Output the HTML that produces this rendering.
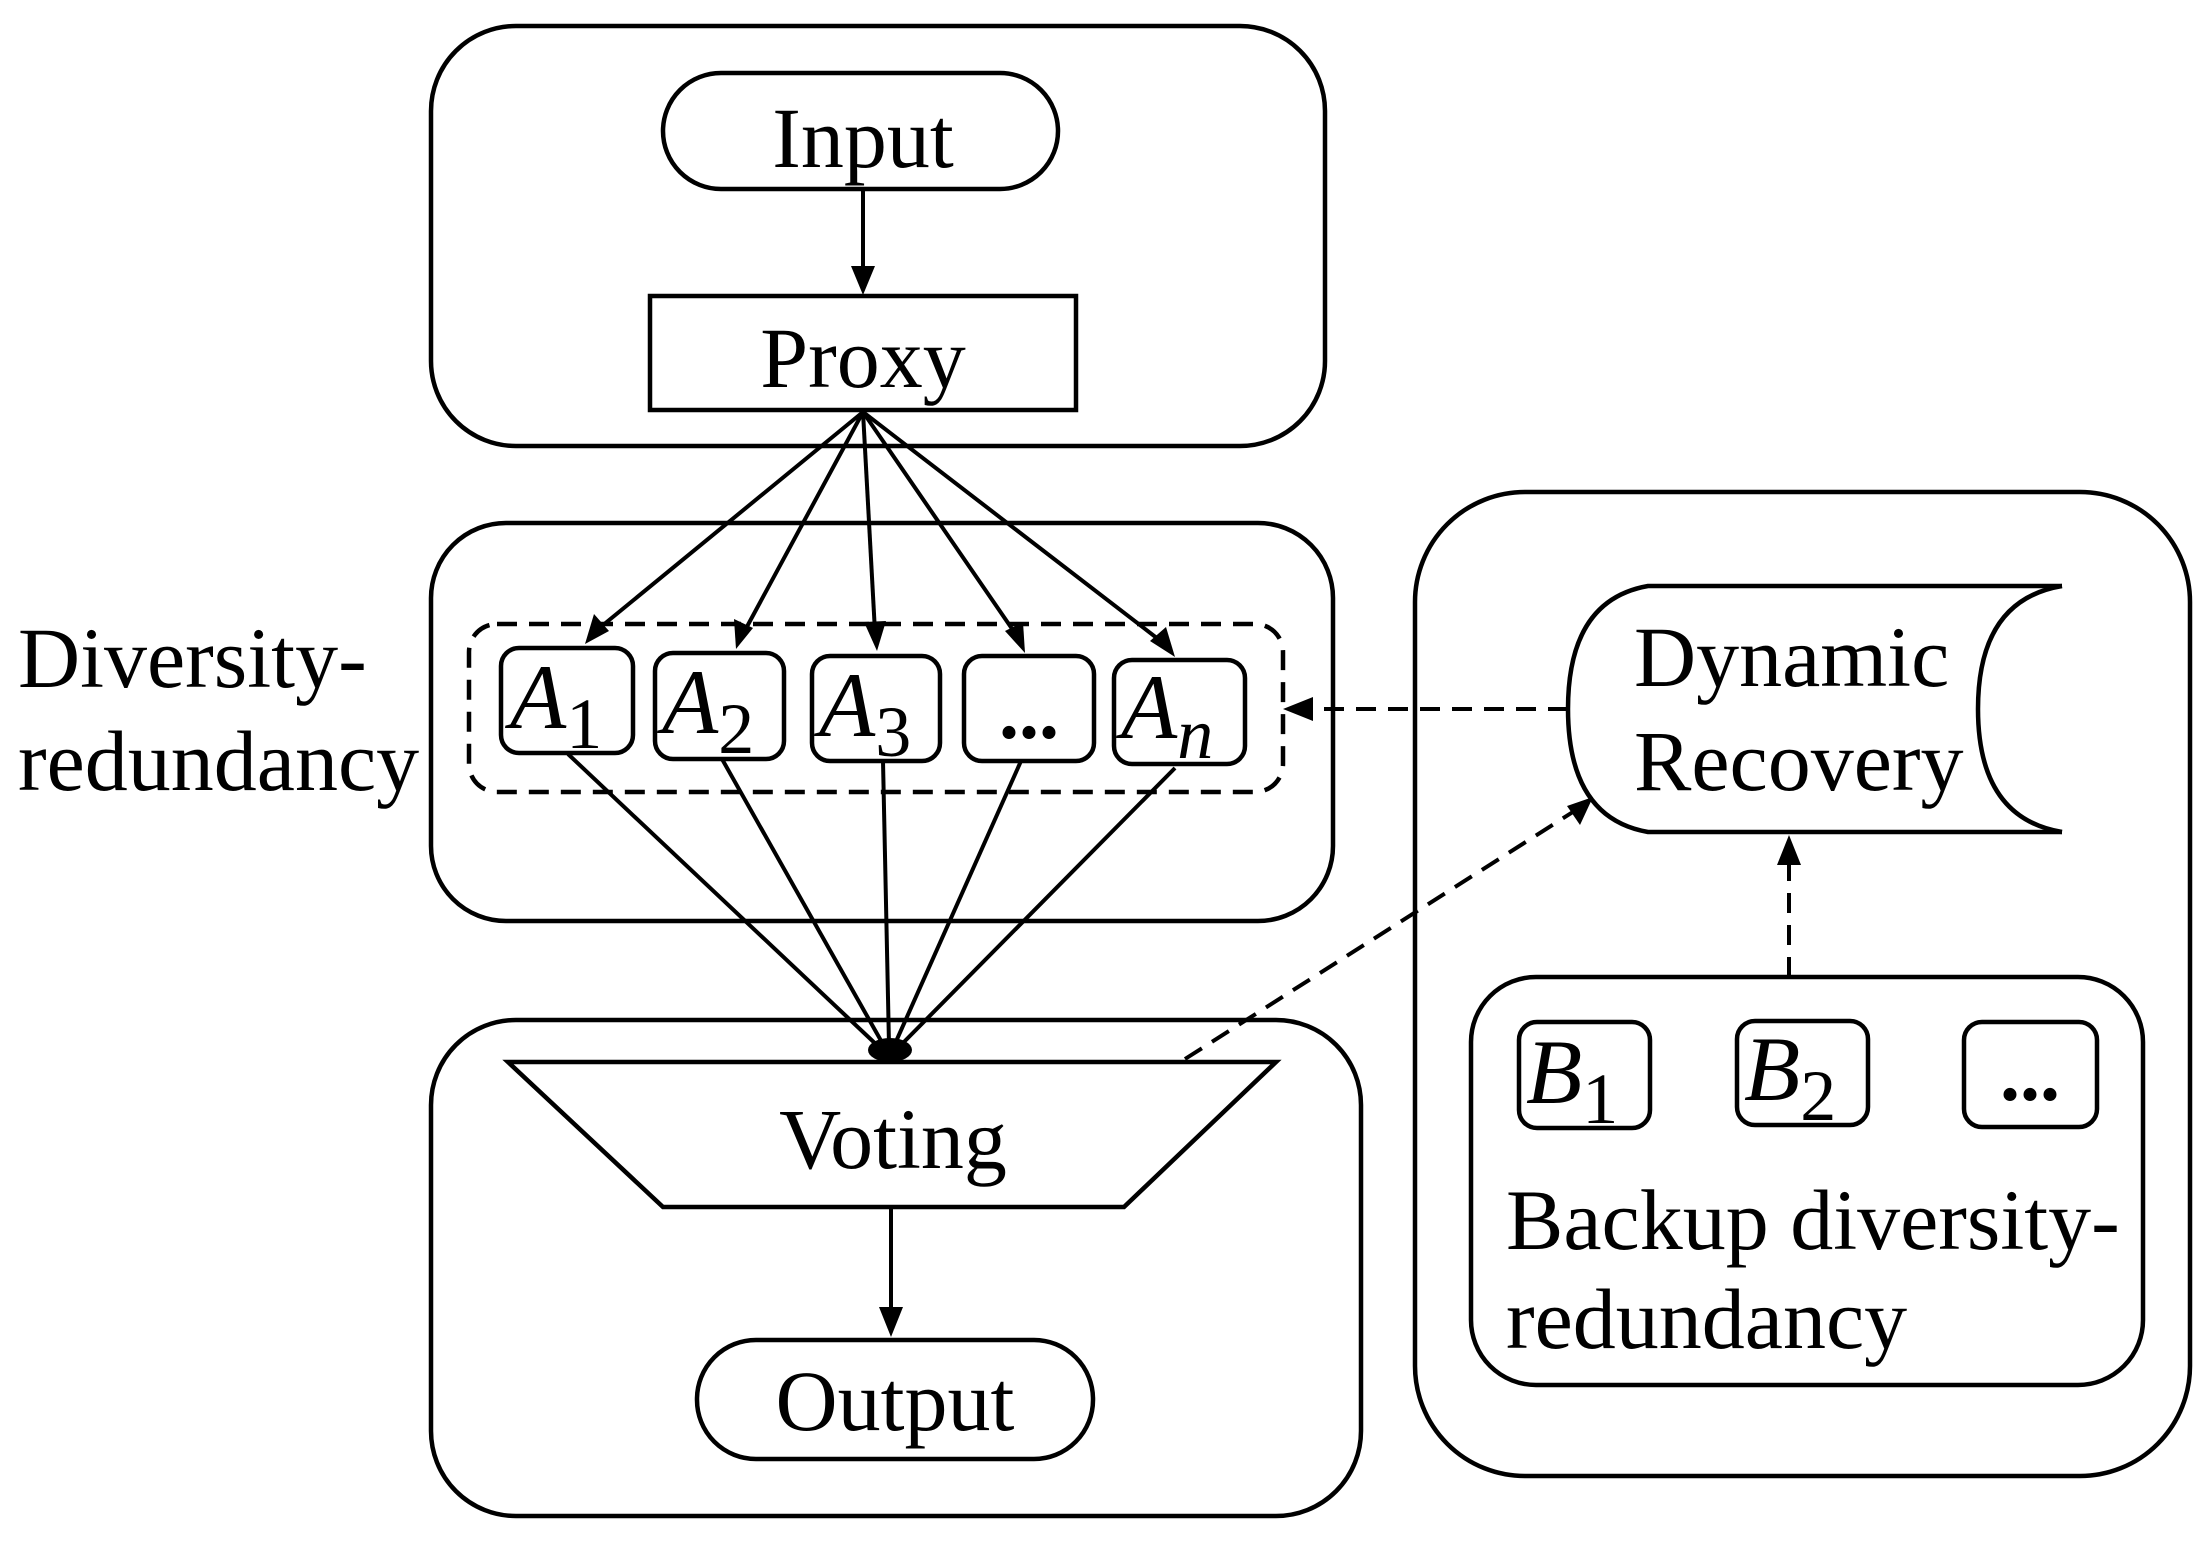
<!DOCTYPE html>
<html><head><meta charset="utf-8"><style>
html,body{margin:0;padding:0;background:#fff;}
svg{display:block;}
text{font-family:"Liberation Serif",serif;fill:#000;}
</style></head><body>
<svg width="2211" height="1545" viewBox="0 0 2211 1545" xmlns="http://www.w3.org/2000/svg">
<g fill="none" stroke="#000" stroke-width="4.5">
<rect x="431" y="26" width="894" height="420" rx="85"/>
<rect x="663" y="73" width="395" height="116" rx="58"/>
<rect x="650" y="296" width="426" height="114"/>
<rect x="431" y="523" width="902" height="398" rx="75"/>
<rect x="469" y="624" width="814" height="168" rx="28" stroke-dasharray="20,12"/>
<rect x="501" y="648" width="132" height="105" rx="18"/>
<rect x="655" y="653" width="129" height="106" rx="18"/>
<rect x="812" y="656" width="128" height="105" rx="18"/>
<rect x="964" y="656" width="130" height="105" rx="18"/>
<rect x="1114" y="660" width="131" height="104" rx="18"/>
<rect x="431" y="1020" width="930" height="496" rx="85"/>
<polygon points="508,1062 1276,1062 1124,1207 663,1207"/>
<rect x="697" y="1340" width="396" height="119" rx="59"/>
<rect x="1415" y="492" width="775" height="984" rx="110"/>
<path d="M2062,586 L1648,586 Q1568,600 1568,709 Q1568,818 1648,832 L2062,832"/>
<path d="M2062,586 Q1978,600 1978,709 Q1978,818 2062,832"/>
<rect x="1471" y="977" width="672" height="408" rx="65"/>
<rect x="1519" y="1022" width="131" height="106" rx="18"/>
<rect x="1737" y="1021" width="131" height="104" rx="18"/>
<rect x="1964" y="1022" width="133" height="105" rx="18"/>
</g>
<g fill="none" stroke="#000" stroke-width="4">
<line x1="863" y1="189" x2="863" y2="272"/>
<line x1="863" y1="412" x2="597" y2="630"/>
<line x1="863" y1="412" x2="743" y2="634"/>
<line x1="863" y1="412" x2="875" y2="632"/>
<line x1="863" y1="412" x2="1017" y2="636"/>
<line x1="863" y1="412" x2="1162" y2="642"/>
<line x1="568" y1="754" x2="880" y2="1048"/>
<line x1="722" y1="759" x2="884" y2="1046"/>
<line x1="883" y1="761" x2="889" y2="1045"/>
<line x1="1021" y1="761" x2="894" y2="1046"/>
<line x1="1175" y1="768" x2="898" y2="1048"/>
<line x1="891" y1="1207" x2="891" y2="1312"/>
<line x1="1568" y1="709" x2="1312" y2="709" stroke-dasharray="20,12"/>
<line x1="1185" y1="1059" x2="1576" y2="810" stroke-dasharray="20,12"/>
<line x1="1789" y1="977" x2="1789" y2="862" stroke-dasharray="20,12"/>
</g>
<g fill="#000">
<polygon points="863,295 851,266 875,266"/>
<polygon points="585,644 594,614 609,631"/>
<polygon points="736,649 734,619 753,628"/>
<polygon points="877,651 864,622 886,621"/>
<polygon points="1025,653 1005,631 1023,622"/>
<polygon points="1175,657 1150,641 1166,627"/>
<ellipse cx="890" cy="1050" rx="22" ry="12"/>
<polygon points="891,1337 879,1307 903,1307"/>
<polygon points="1283,709 1313,697 1313,721"/>
<polygon points="1593,797 1580,825 1567,806"/>
<polygon points="1789,835 1777,865 1801,865"/>
</g>
<g font-size="86">
<text x="863" y="167" text-anchor="middle">Input</text>
<text x="863" y="387" text-anchor="middle">Proxy</text>
<text x="18" y="687">Diversity-</text>
<text x="18" y="790">redundancy</text>
<text x="893" y="1168" text-anchor="middle">Voting</text>
<text x="895" y="1430" text-anchor="middle">Output</text>
<text x="1634" y="686">Dynamic</text>
<text x="1634" y="790">Recovery</text>
<text x="1506" y="1249">Backup diversity-</text>
<text x="1506" y="1348">redundancy</text>
</g>
<g font-size="92" font-style="italic">
<text x="510" y="728">A<tspan font-style="normal" font-size="72" dy="20">1</tspan></text>
<text x="662" y="733">A<tspan font-style="normal" font-size="72" dy="20">2</tspan></text>
<text x="819" y="736">A<tspan font-style="normal" font-size="72" dy="20">3</tspan></text>
<text x="1121" y="738">A<tspan font-size="72" dy="20">n</tspan></text>
<text x="1526" y="1103">B<tspan font-style="normal" font-size="72" dy="20">1</tspan></text>
<text x="1744" y="1100">B<tspan font-style="normal" font-size="72" dy="20">2</tspan></text>
</g>
<g font-size="80" font-weight="bold">
<text x="1029" y="738" text-anchor="middle">...</text>
<text x="2030" y="1100" text-anchor="middle">...</text>
</g>
</svg>
</body></html>
